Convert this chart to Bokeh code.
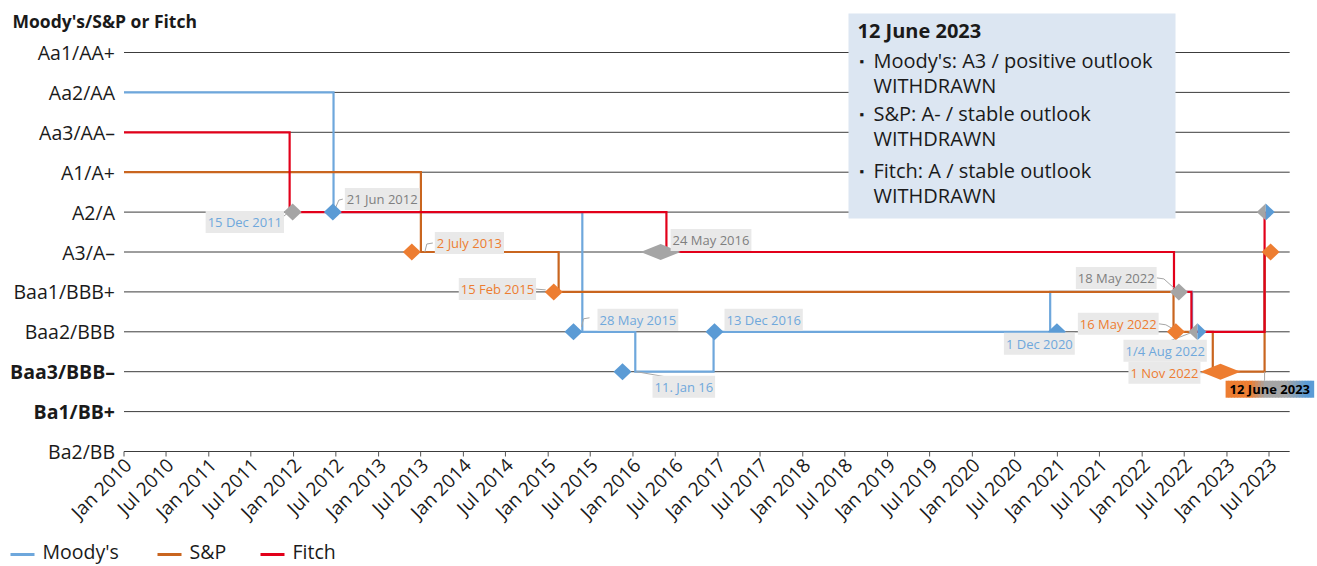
import math
import pandas as pd
from bokeh.plotting import figure
from bokeh.models import Range1d, Label, BoxAnnotation, ColumnDataSource
from bokeh.core.properties import value
from bokeh.embed import file_html
from bokeh.resources import INLINE

# ------------------------------------------------------------------ data
rating_codes = ["Ba2", "Ba1", "Baa3", "Baa2", "Baa1", "A3", "A2", "A1", "Aa3", "Aa2", "Aa1"]
rating_labels = ["Ba2/BB", "Ba1/BB+", "Baa3/BBB–", "Baa2/BBB", "Baa1/BBB+", "A3/A–",
                 "A2/A", "A1/A+", "Aa3/AA–", "Aa2/AA", "Aa1/AA+"]
bold_labels = ["Baa3/BBB–", "Ba1/BB+"]
y_title = "Moody's/S&P or Fitch"

x_tick_dates = list(pd.date_range("2010-01-01", "2023-07-01", freq="6MS"))
x_tick_labels = [d.strftime("%b %Y") for d in x_tick_dates]
x_axis_end = "2023-09-28"

agencies = ["Moody's", "S&P", "Fitch"]

moodys_dates = ["2010-01-01", "2012-06-21", "2015-05-28", "2016-01-11", "2016-12-13",
                "2020-12-01", "2022-08-04", "2023-06-12"]
moodys_ratings = ["Aa2", "A2", "Baa2", "Baa3", "Baa2", "Baa1", "Baa2", "A3"]

sp_dates = ["2010-01-01", "2013-07-02", "2015-02-15", "2022-05-16", "2022-11-01", "2023-06-12"]
sp_ratings = ["A1", "A3", "Baa1", "Baa2", "Baa3", "A3"]

fitch_dates = ["2010-01-01", "2011-12-15", "2016-05-24", "2022-05-18", "2022-08-01", "2023-06-12"]
fitch_ratings = ["Aa3", "A2", "A3", "Baa1", "Baa2", "A2"]

event_labels = ["15 Dec 2011", "21 Jun 2012", "2 July 2013", "15 Feb 2015", "28 May 2015",
                "11. Jan 16", "24 May 2016", "13 Dec 2016", "1 Dec 2020", "18 May 2022",
                "16 May 2022", "1/4 Aug 2022", "1 Nov 2022"]
event_marker_dates = ["2011-12-28", "2012-06-18", "2013-05-24", "2015-01-25", "2015-04-20",
                      "2015-11-17", "2016-04-29", "2016-12-17", "2020-12-30", "2022-06-08",
                      "2022-05-26", "2022-08-27", "2022-12-04"]
event_ratings = ["A2", "A2", "A3", "Baa1", "Baa2", "Baa3", "A3", "Baa2", "Baa2", "Baa1",
                 "Baa2", "Baa2", "Baa3"]
event_agency = ["Fitch", "Moody's", "S&P", "S&P", "Moody's", "Moody's", "Fitch", "Moody's",
                "Moody's", "Fitch", "S&P", "Moody's/Fitch", "S&P"]

withdrawal_date = "2023-06-12"
withdrawal_label = "12 June 2023"
withdrawal_marker_dates = ["2023-06-17", "2023-07-08"]
withdrawal_marker_ratings = ["A2", "A3"]
withdrawal_marker_agency = ["Moody's/Fitch", "S&P"]
withdrawal_lines = ["Moody's:  A3 / positive outlook", "S&P: A- / stable outlook",
                    "Fitch: A / stable outlook"]
withdrawn_word = "WITHDRAWN"

# ------------------------------------------------------------------ styles
FONT = "Open Sans"
BLUE_LINE, BLUE_MK, BLUE_TXT = "#6ea7dc", "#5b9bd5", "#6fa8dc"
ORANGE_LINE, ORANGE_MK, ORANGE_TXT = "#c9651f", "#ed7d31", "#ed7d31"
RED = "#e2001a"
GRAY_MK, GRAY_TXT = "#a5a5a5", "#7f7f7f"
LABEL_BG = "#e9e9e9"
TEXT = "#1a1a1a"
GRID = "#3c3c3c"
line_colors = {"Moody's": BLUE_LINE, "S&P": ORANGE_LINE, "Fitch": RED}
marker_colors = {"Moody's": BLUE_MK, "S&P": ORANGE_MK, "Fitch": GRAY_MK}
label_text_colors = [BLUE_TXT, GRAY_TXT, ORANGE_TXT, ORANGE_TXT, BLUE_TXT, BLUE_TXT,
                     GRAY_TXT, BLUE_TXT, BLUE_TXT, GRAY_TXT, ORANGE_TXT, BLUE_TXT, ORANGE_TXT]
wide_events = [6, 12]
# label offsets (px) from marker centre: (dx to text left, dy down to text middle)
label_offsets = [(-87, 10), (12, -13), (23, -9), (-95, -3), (24, -12), (30, 15), (10, -12),
                 (10, -12), (-53, 12), (-103, -14), (-98, -8), (-74, 19), (-92, 1)]
leaders = [[(-10, 5), (-5, 1)], [(3, -5), (6, -12), (10, -13)], [(13, 0), (15, -8), (21, -9)],
           [(-20, -3), (-8, -2)], [(8, -5), (10, -13), (16, -14)], [(14, 0), (48, 6)], [], [], [],
           [(-22, -14), (-15, -13), (-5, -4)], [(-17, -8), (-10, -7), (-3, -3)],
           [(-30, 10), (-4, 0)], [(-22, 1), (-13, 1)]]

# ------------------------------------------------------------------ canvas / scale layout
W, H = 1316, 566
X_ORIGIN_PX, X_LAST_TICK_PX = 123.5, 1268.5     # where first / last tick fall
Y_BASE_PX, Y_STEP_PX = 451.0, 39.9              # level 0 position, px per notch


def ms(d):
    return pd.Timestamp(d).value / 1e6


PPMS = (X_LAST_TICK_PX - X_ORIGIN_PX) / (ms(x_tick_dates[-1]) - ms(x_tick_dates[0]))
DX = 1.0 / PPMS
DY = 1.0 / Y_STEP_PX
XS = ms(x_tick_dates[0]) - X_ORIGIN_PX * DX
YTOP = Y_BASE_PX * DY


def pgx(x):
    return XS + x * DX


def pgy(y):
    return YTOP - y * DY


def lvl(code):
    return rating_codes.index(code)


p = figure(width=W, height=H, x_range=Range1d(XS, XS + W * DX),
           y_range=Range1d(YTOP - H * DY, YTOP),
           x_axis_location=None, y_axis_location=None,
           output_backend="svg", toolbar_location=None)
p.min_border = 0
p.outline_line_color = None
p.xgrid.visible = False
p.ygrid.visible = False
p.background_fill_color = "white"

X0, XE = ms(x_tick_dates[0]), ms(x_axis_end)
levels = list(range(len(rating_labels)))

# horizontal rating lines (grid) and x axis
p.segment(x0=[X0] * len(levels), x1=[XE] * len(levels), y0=levels, y1=levels,
          line_color=GRID, line_width=1)
tick_x = [ms(d) for d in x_tick_dates]
p.segment(x0=tick_x, x1=tick_x, y0=[0] * len(tick_x), y1=[-5 * DY] * len(tick_x),
          line_color="#555555", line_width=1)
p.text(x=[t + 4 * DX for t in tick_x], y=[-10 * DY] * len(tick_x), text=x_tick_labels,
       angle=math.pi / 4, text_align="right", text_baseline="middle",
       text_font=value(FONT), text_font_size="19px", text_color=TEXT)

# y labels
norm = [(i, l) for i, l in enumerate(rating_labels) if l not in bold_labels]
bold = [(i, l) for i, l in enumerate(rating_labels) if l in bold_labels]
for grp, style in ((norm, "normal"), (bold, "bold")):
    p.text(x=[X0] * len(grp), y=[i for i, _ in grp], text=[l for _, l in grp], x_offset=-9,
           text_align="right", text_baseline="middle", text_font=value(FONT),
           text_font_size="19.5px", text_font_style=style, text_color=TEXT)

p.add_layout(Label(x=pgx(12), y=pgy(20), text=y_title, text_align="left",
                   text_baseline="middle", text_font=FONT, text_font_size="17.5px",
                   text_font_style="bold", text_color=TEXT))

# step lines
series = [(moodys_dates, moodys_ratings), (sp_dates, sp_ratings), (fitch_dates, fitch_ratings)]
for name, (dts, rts) in zip(agencies, series):
    src = ColumnDataSource(dict(x=[ms(d) for d in dts], y=[lvl(r) for r in rts]))
    p.step("x", "y", source=src, mode="after", line_width=2.2, line_color=line_colors[name],
           line_join="miter")

# leader lines
lx, ly = [], []
for i, segs in enumerate(leaders):
    if not segs:
        continue
    xc, yc = ms(event_marker_dates[i]), lvl(event_ratings[i])
    lx.append([xc + a * DX for a, b in segs])
    ly.append([yc - b * DY for a, b in segs])
xw, yw = ms(withdrawal_date), lvl(sp_ratings[-2])
lx.append([xw, xw])
ly.append([yw, yw - 9 * DY])
p.multi_line(lx, ly, line_color="#a6a6a6", line_width=1)

# diamonds
pxs, pys, pcs = [], [], []


def add_marker(date, rating, agency, wide=False):
    xc, yc = ms(date), lvl(rating)
    hw, hh = (20, 8) if wide else (9, 8.5)
    if agency == "Moody's/Fitch":
        pxs.append([xc - hw * DX, xc, xc]); pys.append([yc, yc + hh * DY, yc - hh * DY]); pcs.append(GRAY_MK)
        pxs.append([xc, xc + hw * DX, xc]); pys.append([yc + hh * DY, yc, yc - hh * DY]); pcs.append(BLUE_MK)
    else:
        pxs.append([xc - hw * DX, xc, xc + hw * DX, xc])
        pys.append([yc, yc + hh * DY, yc, yc - hh * DY])
        pcs.append(marker_colors[agency])


for i in range(len(event_labels)):
    add_marker(event_marker_dates[i], event_ratings[i], event_agency[i], i in wide_events)
for d, r, a in zip(withdrawal_marker_dates, withdrawal_marker_ratings, withdrawal_marker_agency):
    add_marker(d, r, a)
p.patches(pxs, pys, fill_color=pcs, line_color=None)

# event labels
for i, t in enumerate(event_labels):
    dx, dy = label_offsets[i]
    p.add_layout(Label(x=ms(event_marker_dates[i]), y=lvl(event_ratings[i]), x_offset=dx,
                       y_offset=-dy, text=t, text_align="left", text_baseline="middle",
                       text_font=FONT, text_font_size="13px", text_color=label_text_colors[i],
                       background_fill_color=LABEL_BG, padding=2))

# gradient box for the withdrawal date label
stops = [(0.0, ORANGE_MK), (0.28, ORANGE_MK), (0.45, GRAY_MK), (0.68, GRAY_MK),
         (0.92, BLUE_MK), (1.0, BLUE_MK)]


def hex2rgb(h):
    return tuple(int(h[k:k + 2], 16) for k in (1, 3, 5))


def grad(t):
    for (t0, c0), (t1, c1) in zip(stops[:-1], stops[1:]):
        if t0 <= t <= t1:
            f = 0 if t1 == t0 else (t - t0) / (t1 - t0)
            a, b = hex2rgb(c0), hex2rgb(c1)
            return "#%02x%02x%02x" % tuple(round(a[k] + (b[k] - a[k]) * f) for k in range(3))
    return stops[-1][1]


box_l, box_r, box_t, box_b = -39, 49, 9, 26   # px relative to (withdrawal date, Baa3)
N = 30
for k in range(N):
    l = xw + (box_l + (box_r - box_l) * k / N) * DX
    r = xw + (box_l + (box_r - box_l) * (k + 1) / N + 0.6) * DX
    p.add_layout(BoxAnnotation(left=l, right=r, top=yw - box_t * DY, bottom=yw - box_b * DY,
                               fill_color=grad((k + 0.5) / N), fill_alpha=1, line_color=None))
p.add_layout(Label(x=xw, y=yw, x_offset=box_l + 4, y_offset=-17.5, text=withdrawal_label,
                   text_align="left", text_baseline="middle", text_font=FONT,
                   text_font_size="13px", text_font_style="bold", text_color="black"))

# info box, top right
p.add_layout(BoxAnnotation(left=pgx(848), right=pgx(1175), top=pgy(13), bottom=pgy(218),
                           fill_color="#dce6f2", fill_alpha=1, line_color=None))
p.add_layout(Label(x=pgx(857), y=pgy(30), text=withdrawal_label, text_align="left",
                   text_baseline="middle", text_font=FONT, text_font_size="20px",
                   text_font_style="bold", text_color=TEXT))
rows = [60, 113, 170]
for t, yy in zip(withdrawal_lines, rows):
    p.add_layout(Label(x=pgx(859), y=pgy(yy), text="▪", text_align="left", text_baseline="middle",
                       text_font=FONT, text_font_size="13px", text_color=TEXT))
    p.add_layout(Label(x=pgx(873), y=pgy(yy), text=t, text_align="left", text_baseline="middle",
                       text_font=FONT, text_font_size="20px", text_color=TEXT))
    p.add_layout(Label(x=pgx(873), y=pgy(yy + 25), text=withdrawn_word, text_align="left",
                       text_baseline="middle", text_font=FONT, text_font_size="20px",
                       text_color=TEXT))

# legend (manual)
leg_x = [10, 157, 260]
for name, x0 in zip(agencies, leg_x):
    p.add_layout(BoxAnnotation(left=pgx(x0), right=pgx(x0 + 24), top=pgy(552.5), bottom=pgy(555.5),
                               fill_color=line_colors[name], fill_alpha=1, line_color=None))
    p.add_layout(Label(x=pgx(x0 + 32), y=pgy(551), text=name, text_align="left",
                       text_baseline="middle", text_font=FONT, text_font_size="19.5px",
                       text_color=TEXT))

open("out.html", "w").write(file_html(p, INLINE))
